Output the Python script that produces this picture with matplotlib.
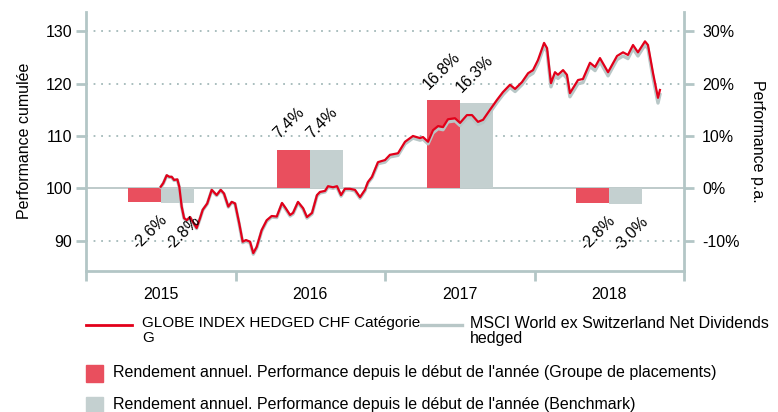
import matplotlib.pyplot as plt
from matplotlib.lines import Line2D
from matplotlib.patches import Rectangle
from matplotlib.ticker import FixedLocator, NullFormatter

plt.rcParams['font.family'] = ['Liberation Sans', 'DejaVu Sans']
FS = 11.5
plt.rcParams['font.size'] = FS

# cumulative performance (decimal years)
dates = [
    2015.500, 2015.517, 2015.540, 2015.557, 2015.573, 2015.589, 2015.611, 2015.624, 2015.640, 2015.656,
    2015.674, 2015.696, 2015.714, 2015.740, 2015.763, 2015.781, 2015.811, 2015.841, 2015.874, 2015.901,
    2015.923, 2015.952, 2015.975, 2015.997,
    2016.025, 2016.048, 2016.070, 2016.097, 2016.119, 2016.142, 2016.175, 2016.209, 2016.242, 2016.276,
    2016.311, 2016.331, 2016.365, 2016.385, 2016.418, 2016.452, 2016.478, 2016.512, 2016.545, 2016.565,
    2016.599, 2016.619, 2016.652, 2016.679, 2016.706, 2016.732, 2016.766, 2016.799, 2016.833, 2016.866,
    2016.886, 2016.913, 2016.953,
    2017.000, 2017.033, 2017.087, 2017.134, 2017.187, 2017.234, 2017.254, 2017.288, 2017.321, 2017.355,
    2017.388, 2017.421, 2017.468, 2017.502, 2017.548, 2017.582, 2017.622, 2017.656, 2017.702, 2017.749,
    2017.789, 2017.836, 2017.870, 2017.916, 2017.957, 2017.990,
    2018.023, 2018.064, 2018.084, 2018.110, 2018.137, 2018.157, 2018.191, 2018.217, 2018.237, 2018.291,
    2018.324, 2018.371, 2018.405, 2018.438, 2018.492, 2018.552, 2018.592, 2018.625, 2018.659, 2018.692,
    2018.739, 2018.759, 2018.793, 2018.826, 2018.839,
]
fund = [
    100.3, 101.0, 102.5, 102.2, 102.2, 101.6, 101.7, 100.3, 96.5, 94.3,
    93.9, 94.5, 93.6, 92.4, 94.3, 95.9, 97.1, 99.7, 98.7, 99.7,
    99.0, 96.5, 97.4, 97.1,
    93.3, 89.8, 90.1, 89.8, 87.6, 88.8, 92.0, 93.9, 94.7, 94.6,
    97.2, 96.4, 94.9, 95.3, 97.4, 96.2, 94.5, 95.3, 98.7, 99.3,
    99.5, 100.4, 100.2, 100.4, 98.7, 99.9, 99.9, 99.7, 98.3, 99.7,
    101.2, 102.2, 105.0,
    105.4, 106.4, 106.7, 108.9, 110.0, 109.6, 109.8, 108.9, 111.1, 111.9,
    111.7, 113.2, 113.4, 112.5, 114.0, 114.0, 112.7, 113.1, 115.0, 116.9,
    118.4, 119.8, 119.0, 120.3, 122.0, 122.6,
    124.5, 127.8, 126.8, 120.1, 122.2, 121.7, 122.6, 121.7, 118.2, 120.7,
    120.9, 124.0, 123.2, 124.9, 122.2, 125.3, 126.0, 125.5, 127.4, 126.0,
    128.1, 127.4, 122.0, 117.3, 118.8,
]
bench = [
    100.2, 100.9, 102.4, 102.1, 102.1, 101.5, 101.6, 100.2, 96.4, 94.2,
    93.8, 94.4, 93.5, 92.3, 94.2, 95.8, 97.0, 99.6, 98.6, 99.6,
    98.9, 96.4, 97.3, 97.0,
    93.1, 89.6, 89.9, 89.6, 87.4, 88.6, 91.8, 93.7, 94.5, 94.4,
    97.0, 96.2, 94.7, 95.1, 97.2, 96.0, 94.3, 95.1, 98.5, 99.1,
    99.3, 100.2, 100.0, 100.2, 98.5, 99.7, 99.7, 99.5, 98.1, 99.5,
    101.0, 102.0, 104.7,
    105.0, 106.0, 106.3, 108.5, 109.6, 109.2, 109.4, 108.5, 110.6, 111.4,
    111.2, 112.7, 112.9, 112.0, 113.5, 113.5, 112.2, 112.6, 114.5, 116.4,
    117.9, 119.3, 118.5, 119.8, 121.4, 122.0,
    123.8, 127.1, 126.1, 119.4, 121.5, 121.0, 121.9, 121.0, 117.5, 120.0,
    120.2, 123.3, 122.5, 124.2, 121.5, 124.6, 125.3, 124.8, 126.7, 125.3,
    127.4, 126.7, 121.1, 116.3, 117.9,
]

# yearly returns in %
years = [2015, 2016, 2017, 2018]
ret_fund = [-2.6, 7.4, 16.8, -2.8]
ret_bench = [-2.8, 7.4, 16.3, -3.0]

red_line = '#e2001a'
grey_line = '#b8c7c7'
red_bar = '#e94f5e'
grey_bar = '#c4d0d0'
axis_col = '#b3c6c6'

fig = plt.figure(figsize=(7.78, 4.12), dpi=100)
ax = fig.add_axes([86 / 778, 1 - 270.5 / 412, 598 / 778, 258.5 / 412])
ax2 = ax.twinx()

ax.set_xlim(2015, 2019)
ax.set_ylim(84.28, 133.71)
ax2.set_ylim(-15.72, 33.71)

# grid
for v in [90, 110, 120, 130]:
    ax.axhline(v, color='#a3b9b9', lw=1.3, ls=(0, (1, 3.2)), zorder=0)
ax.axhline(100, color='#b9c6c6', lw=1.3, zorder=1)

# bars
bw = 0.22
for yr, rf, rb in zip(years, ret_fund, ret_bench):
    mid = yr + 0.5
    ax.bar(mid - bw / 2, rf, width=bw, bottom=100, color=red_bar, zorder=2)
    ax.bar(mid + bw / 2, rb, width=bw, bottom=100, color=grey_bar, zorder=2)
    for x0, r in [(mid - bw, rf), (mid, rb)]:
        if r >= 0:
            ax.annotate(f'{r:.1f}%', (x0, 100 + r), xytext=(3, 6), textcoords='offset points',
                        rotation=45, rotation_mode='anchor', ha='left', va='bottom', zorder=5)
        else:
            ax.annotate(f'{r:.1f}%', (x0 + bw, 100 + r), xytext=(-1, -7), textcoords='offset points',
                        rotation=45, rotation_mode='anchor', ha='right', va='top', zorder=5)

# lines
ax.plot(dates, bench, color=grey_line, lw=2.4, zorder=3)
ax.plot(dates, fund, color=red_line, lw=1.6, zorder=4)

# axes styling
for a in (ax, ax2):
    a.spines['top'].set_visible(False)
    for s in ['left', 'right', 'bottom']:
        a.spines[s].set_color(axis_col)
        a.spines[s].set_linewidth(2)
ax.spines['right'].set_visible(False)
ax2.spines['left'].set_visible(False)
ax2.spines['bottom'].set_visible(False)

ax.set_yticks([90, 100, 110, 120, 130])
ax.tick_params(axis='y', length=7, width=2, color=axis_col, pad=3, labelsize=FS)
ax2.set_yticks([-10, 0, 10, 20, 30])
ax2.set_yticklabels(['-10%', '0%', '10%', '20%', '30%'])
ax2.tick_params(axis='y', length=7, width=2, color=axis_col, pad=6, labelsize=FS)

ax.xaxis.set_major_locator(FixedLocator([2015, 2016, 2017, 2018, 2019]))
ax.xaxis.set_major_formatter(NullFormatter())
ax.xaxis.set_minor_locator(FixedLocator([2015.5, 2016.5, 2017.5, 2018.5]))
ax.set_xticklabels(['2015', '2016', '2017', '2018'], minor=True)
ax.tick_params(axis='x', which='major', length=7, width=2, color=axis_col)
ax.tick_params(axis='x', which='minor', length=0, pad=12, labelsize=FS)

ax.set_ylabel('Performance cumulée', fontsize=FS, labelpad=10)
ax2.set_ylabel('Performance p.a.', fontsize=FS, rotation=270, labelpad=18)

# legend drawn in figure pixels
W, H = 778, 412


def fx(px):
    return px / W


def fy(py):
    return 1 - py / H


fig.add_artist(Line2D([fx(86), fx(132)], [fy(325), fy(325)], color=red_line, lw=2))
fig.text(fx(142), fy(316), 'GLOBE INDEX HEDGED CHF Catégorie\nG', va='top', ha='left',
         fontsize=11, linespacing=1.05)
fig.add_artist(Line2D([fx(421), fx(462)], [fy(325), fy(325)], color=grey_line, lw=2.4))
fig.text(fx(470), fy(316), 'MSCI World ex Switzerland Net Dividends\nhedged', va='top', ha='left',
         fontsize=FS, linespacing=1.0)
fig.add_artist(Rectangle((fx(86), fy(382)), fx(17), 17 / H, color=red_bar))
fig.text(fx(113), fy(373), "Rendement annuel. Performance depuis le début de l'année (Groupe de placements)",
         va='center', ha='left', fontsize=FS)
fig.add_artist(Rectangle((fx(86), fy(415)), fx(17), 18 / H, color=grey_bar))
fig.text(fx(113), fy(405), "Rendement annuel. Performance depuis le début de l'année (Benchmark)",
         va='center', ha='left', fontsize=FS)

fig.savefig('out.png', dpi=100)
